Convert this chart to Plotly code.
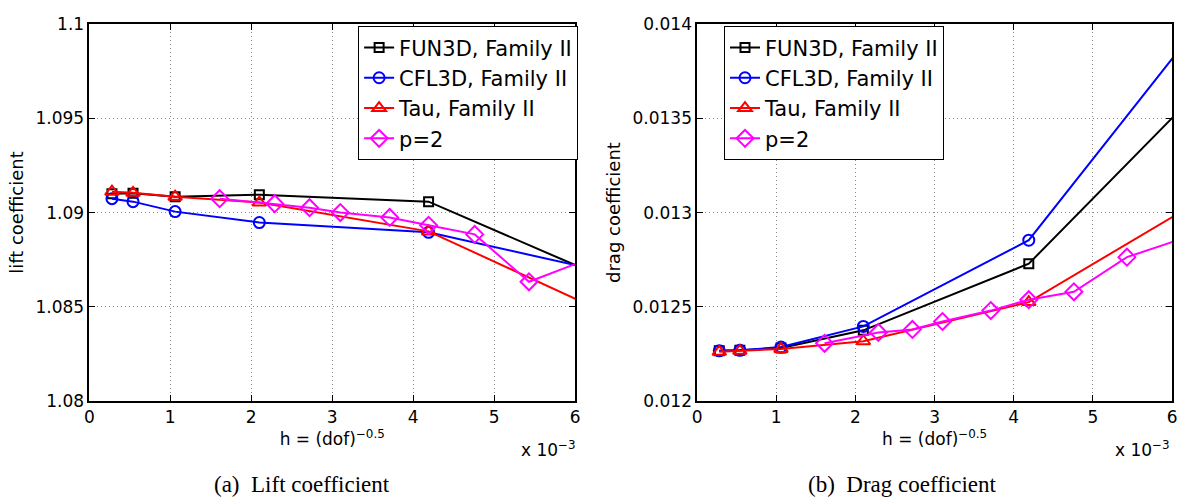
import plotly.graph_objects as go

# ---------------- data ----------------
h_family = [0.28, 0.54, 1.06, 2.10, 4.19, 8.38]          # h x 10^-3
h_p2 = [1.61, 2.29, 2.72, 3.10, 3.71, 4.19, 4.76, 5.43, 6.9]

lift_fun3d = [1.09100, 1.09103, 1.09084, 1.09095, 1.09058, 1.08278]
lift_cfl3d = [1.09074, 1.09058, 1.09005, 1.08947, 1.08895, 1.08492]
lift_tau   = [1.09111, 1.09105, 1.09084, 1.09053, 1.08900, 1.08071]
lift_p2    = [1.09074, 1.09047, 1.09026, 1.09000, 1.08974, 1.08932, 1.08884, 1.08632, 1.08875]

drag_fun3d = [0.012265, 0.012268, 0.012280, 0.012374, 0.012728, 0.014520]
drag_cfl3d = [0.012265, 0.012268, 0.012285, 0.012395, 0.012853, 0.015085]
drag_tau   = [0.012260, 0.012265, 0.012275, 0.012316, 0.012524, 0.013570]
drag_p2    = [0.012305, 0.012363, 0.012379, 0.012421, 0.012479, 0.012537, 0.012579, 0.012763, 0.012969]

series_names = ["FUN3D, Family II", "CFL3D, Family II", "Tau, Family II", "p=2"]
x_ticks = [0, 1, 2, 3, 4, 5, 6]
lift_ticks = [1.08, 1.085, 1.09, 1.095, 1.1]
lift_ticktext = ["1.08", "1.085", "1.09", "1.095", "1.1"]
drag_ticks = [0.012, 0.0125, 0.013, 0.0135, 0.014]
drag_ticktext = ["0.012", "0.0125", "0.013", "0.0135", "0.014"]

# ---------------- styling ----------------
colors = ["#000000", "#0000ff", "#ff0000", "#ff00ff"]
symbols = ["square-open", "circle-open", "triangle-up-open", "diamond-open"]
msizes = [9, 11, 12, 13]
FONT = "DejaVu Sans, Liberation Sans, Arial, sans-serif"
SERIF = "Liberation Serif, DejaVu Serif, serif"

W, H = 1184, 500
def px_x(p): return p / W
def px_y(p): return 1 - p / H

fig = go.Figure()

lift_sets = [(h_family, lift_fun3d), (h_family, lift_cfl3d), (h_family, lift_tau), (h_p2, lift_p2)]
drag_sets = [(h_family, drag_fun3d), (h_family, drag_cfl3d), (h_family, drag_tau), (h_p2, drag_p2)]

for i, (xs, ys) in enumerate(lift_sets):
    fig.add_trace(go.Scatter(
        x=xs, y=ys, mode="lines+markers", name=series_names[i],
        line=dict(color=colors[i], width=2),
        marker=dict(symbol=symbols[i], size=msizes[i], color=colors[i],
                    line=dict(color=colors[i], width=2)),
        xaxis="x", yaxis="y", legend="legend"))

for i, (xs, ys) in enumerate(drag_sets):
    fig.add_trace(go.Scatter(
        x=xs, y=ys, mode="lines+markers", name=series_names[i],
        line=dict(color=colors[i], width=2),
        marker=dict(symbol=symbols[i], size=msizes[i], color=colors[i],
                    line=dict(color=colors[i], width=2)),
        xaxis="x2", yaxis="y2", legend="legend2"))

axis_common = dict(
    showline=True, linecolor="black", linewidth=1.5, mirror="ticks",
    ticks="inside", ticklen=6, tickcolor="black", tickwidth=1,
    showgrid=True, gridcolor="#8a8a8a", griddash="1px,3px", gridwidth=1,
    zeroline=False, tickfont=dict(family=FONT, size=17, color="black"),
)

xdom1 = [px_x(85), px_x(575)]
xdom2 = [px_x(698), px_x(1177)]
ydom = [px_y(407), px_y(15)]

xtitle = dict(text="h = (dof)<sup>−0.5</sup>", font=dict(family=FONT, size=17, color="black"), standoff=4)

legend_common = dict(xanchor="right", yanchor="top", y=px_y(17),
                     bgcolor="white", bordercolor="black", borderwidth=1,
                     font=dict(family=FONT, size=21, color="black"), tracegroupgap=0,
                     itemwidth=30)

fig.update_layout(
    width=W, height=H,
    margin=dict(l=0, r=0, t=0, b=0),
    paper_bgcolor="white", plot_bgcolor="white",
    xaxis=dict(domain=xdom1, range=[0, 6], tickvals=x_ticks, anchor="y",
               title=xtitle, **axis_common),
    yaxis=dict(domain=ydom, range=[1.08, 1.1], tickvals=lift_ticks, ticktext=lift_ticktext,
               anchor="x", title=dict(text="lift coefficient", font=dict(family=FONT, size=18, color="black"), standoff=7),
               **axis_common),
    xaxis2=dict(domain=xdom2, range=[0, 6], tickvals=x_ticks, anchor="y2",
                title=xtitle, **axis_common),
    yaxis2=dict(domain=ydom, range=[0.012, 0.014], tickvals=drag_ticks, ticktext=drag_ticktext,
                anchor="x2", title=dict(text="drag coefficient", font=dict(family=FONT, size=18, color="black"), standoff=7),
                **axis_common),
    legend=dict(x=px_x(578), **legend_common),
    legend2=dict(x=px_x(947), **legend_common),
    showlegend=True,
)

annots = [
    dict(text="x 10<sup>−3</sup>", x=px_x(578), y=px_y(457), xanchor="right", yanchor="middle"),
    dict(text="x 10<sup>−3</sup>", x=px_x(1177), y=px_y(457), xanchor="right", yanchor="middle"),
]
for a in annots:
    fig.add_annotation(xref="paper", yref="paper", showarrow=False,
                       font=dict(family=FONT, size=17, color="black"), **a)

for txt, cx in [("(a)  Lift coefficient", 300), ("(b)  Drag coefficient", 905)]:
    fig.add_annotation(xref="paper", yref="paper", showarrow=False, text=txt,
                       x=px_x(cx), y=px_y(494), xanchor="center", yanchor="middle",
                       font=dict(family=SERIF, size=23, color="black"))

fig.write_html("out.html", config={"displayModeBar": False},
               post_script="document.body.style.margin='0px';")
